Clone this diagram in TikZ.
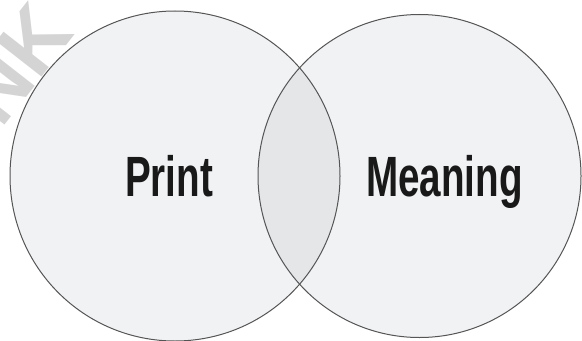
\documentclass[tikz,border=0pt]{standalone}
\usepackage{fontspec}
\newfontfamily\vennfont[FakeStretch=0.68]{Liberation Sans}
\newfontfamily\filigranafont{Liberation Sans}
\usetikzlibrary{positioning}
\definecolor{sfondo}{HTML}{F1F2F4}
\definecolor{lente}{HTML}{E5E6E8}
\definecolor{bordo}{HTML}{555555}
\definecolor{filigrana}{HTML}{D4D4D4}

\begin{document}
\begin{tikzpicture}[
    x=1bp, y=1bp,
    insieme/.style   = {fill=sfondo},
    contorno/.style  = {draw=bordo, line width=1bp},
    etichetta/.style = {font=\vennfont\bfseries\fontsize{57}{57}\selectfont, text=black!90, inner sep=0pt}
]
\useasboundingbox (0,0) rectangle (582,340);

% ---- filigrana ----
\begin{scope}
  \clip (0,0) rectangle (582,340);
  \node[font=\filigranafont\bfseries\fontsize{84}{84}\selectfont, rotate=52, anchor=south east,
        text=filigrana, inner sep=0pt]
      (filigrana) at (76,306) {NK};
\end{scope}

% ---- insiemi ----
\coordinate (cP) at (175,164);
\coordinate (cM) at (419.5,164);
\fill[insieme] (cP) circle[radius=165];
\fill[insieme] (cM) circle[radius=161.5];

% ---- intersezione ----
\begin{scope}
  \clip (cP) circle[radius=165];
  \fill[lente] (cM) circle[radius=161.5];
\end{scope}

\draw[contorno] (cP) circle[radius=165];
\draw[contorno] (cM) circle[radius=161.5];

% ---- etichette ----
\node[etichetta, anchor=base] (print) at (169,144) {Print};
\node[etichetta, anchor=base] (meaning) at (444.5,144) {Meaning};

\end{tikzpicture}
\end{document}
